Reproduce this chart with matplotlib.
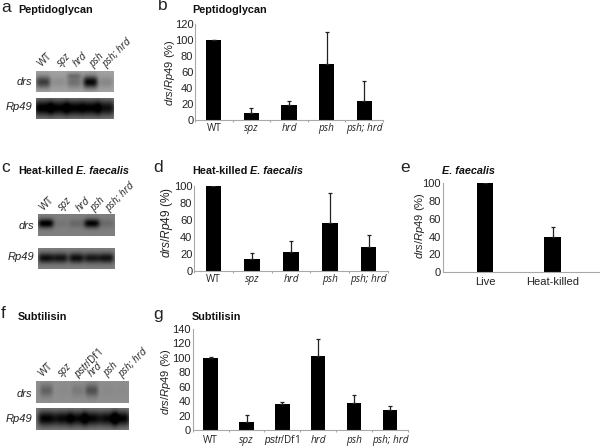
#!/usr/bin/env python
import numpy as np
import matplotlib
matplotlib.use("Agg")
import matplotlib.pyplot as plt

W, H = 600, 446
LABEL_FONT = ["Liberation Sans", "DejaVu Sans"]
CAT_FONT = ["Open Sans", "DejaVu Sans"]

plt.rcParams["mathtext.fontset"] = "custom"
plt.rcParams["mathtext.it"] = "Liberation Sans:italic"
plt.rcParams["mathtext.rm"] = "Liberation Sans"

PSTR = r"$\mathit{pstr/}$Df1"

# bar panels
b_cats = ["WT", "spz", "hrd", "psh", "psh; hrd"]
b_vals = [99, 9, 19, 70, 23.5]
b_tops = [100, 15, 23.5, 109, 49]
b_ticks = [0, 20, 40, 60, 80, 100, 120]

d_cats = ["WT", "spz", "hrd", "psh", "psh; hrd"]
d_vals = [100, 14, 22.5, 56, 27.5]
d_tops = [100, 20.5, 34.5, 92, 42]
d_ticks = [0, 20, 40, 60, 80, 100]

e_cats = ["Live", "Heat-killed"]
e_vals = [100, 40]
e_tops = [100, 50.5]
e_ticks = [0, 20, 40, 60, 80, 100]

g_cats = ["WT", "spz", PSTR, "hrd", "psh", "psh; hrd"]
g_vals = [100, 11.5, 35.8, 102, 37.6, 27.5]
g_tops = [101, 20.6, 38.5, 126, 48, 34]
g_ticks = [0, 20, 40, 60, 80, 100, 120, 140]

# blots: lane position (fraction of blot width) and darkness
a_lanes = [0.09, 0.29, 0.49, 0.70, 0.90]
a_drs = [0.60, 0.12, 0.30, 0.92, 0.16]
a_drs_upper = [0.0, 0.0, 0.22, 0.0, 0.0]
a_rp49 = [1.0, 0.95, 0.97, 0.97, 0.85]
c_lanes = [0.10, 0.29, 0.50, 0.70, 0.89]
c_drs = [1.0, 0.08, 0.18, 0.95, 0.16]
c_rp49 = [0.85, 0.80, 0.85, 0.78, 0.82]
f_lanes = [0.11, 0.29, 0.45, 0.60, 0.78, 0.92]
f_drs = [0.30, 0.03, 0.14, 0.42, 0.04, 0.03]
f_rp49 = [0.95, 0.90, 0.90, 0.92, 0.90, 0.95]

# lane labels over the blots
a_names = ["WT", "spz", "hrd", "psh", "psh; hrd"]
a_x = [40, 59, 75, 91, 104.5]
a_y = [65, 65, 65, 66, 66]
c_names = ["WT", "spz", "hrd", "psh", "psh; hrd"]
c_x = [42, 60, 78, 92, 107]
c_y = [209, 209, 210, 210, 210]
f_names = ["WT", "spz", PSTR, "hrd", "psh", "psh; hrd"]
f_x = [41, 60, 76, 90, 105, 120]
f_y = [375, 375, 376, 375, 375, 376]


def axes_px(fig, x0, y0, x1, y1):
    # pixel box measured from the top left of the picture
    return fig.add_axes([x0 / W, 1 - y1 / H, (x1 - x0) / W, (y1 - y0) / H])


def bar_panel(fig, box, y_max, cats, vals, tops, ticks, xlim, width):
    ax = axes_px(fig, *box)
    x = np.arange(len(cats))
    ax.bar(x, vals, width=width, color="black", linewidth=0)
    err = np.array(tops) - np.array(vals)
    ax.errorbar(x, vals, yerr=[np.zeros(len(x)), err], fmt="none", ecolor="#222222",
                elinewidth=0.9, capsize=1.6, capthick=0.9)
    ax.set_xlim(*xlim)
    ax.set_ylim(0, y_max)
    for s in ["top", "right"]:
        ax.spines[s].set_visible(False)
    for s in ["left", "bottom"]:
        ax.spines[s].set_color("#a8a8a8")
        ax.spines[s].set_linewidth(0.8)
    ax.set_yticks(ticks)
    ax.set_yticklabels([str(t) for t in ticks], fontsize=8, family=LABEL_FONT, color="#222222")
    ax.tick_params(axis="y", length=0, pad=1.2)
    ax.set_xticks(np.arange(len(cats) + 1) - 0.5)
    ax.set_xticklabels([])
    ax.tick_params(axis="x", length=1.5, color="#a8a8a8")
    ax.patch.set_alpha(0)
    return ax


def cat_labels(ax, cats, y_off):
    # WT upright, gene names in italics
    for i, text in enumerate(cats):
        style = "normal" if text in ["WT", PSTR] else "italic"
        ax.annotate(text, (i, 0), xycoords=("data", "axes fraction"), xytext=(0, y_off),
                    textcoords="offset points", ha="center", va="center", fontsize=7.2,
                    family=CAT_FONT, style=style, color="#222222")


def blot(fig, box, lanes, dark, bg, spread_x, spread_y, yc=0.5, upper=None):
    ax = axes_px(fig, *box)
    nx, ny = int(box[2] - box[0]) * 2, int(box[3] - box[1]) * 2
    xx, yy = np.meshgrid(np.linspace(0, 1, nx), np.linspace(0, 1, ny))
    img = np.zeros((ny, nx))
    for pos, d in zip(lanes, dark):
        img += d * np.exp(-((xx - pos) / spread_x) ** 4 / 2 - ((yy - yc) / spread_y) ** 2 / 2)
    if upper is not None:
        # faint second band above the main one
        for pos, d in zip(lanes, upper):
            img += d * np.exp(-((xx - pos) / spread_x) ** 4 / 2 - ((yy - 0.25) / 0.1) ** 2 / 2)
    img = np.clip(bg * (1 - img * 1.05), 0, 1)
    ax.imshow(img, cmap="gray", vmin=0, vmax=1, aspect="auto", interpolation="bilinear")
    ax.axis("off")
    return ax


fig = plt.figure(figsize=(W / 100, H / 100), dpi=100)


def px_text(x, y, s, **kw):
    fig.text(x / W, 1 - y / H, s, **kw)


def title(x, y, parts):
    # bold heading, an italic species name may follow
    end = x
    if parts[0]:
        t = fig.text(x / W, 1 - y / H, parts[0], fontsize=7.8, weight="bold", family=LABEL_FONT,
                     va="center", color="#111111")
        fig.canvas.draw()
        end = t.get_window_extent().x1 + 2.5
    if len(parts) > 1:
        fig.text(end / W, 1 - y / H, parts[1], fontsize=7.8, weight="bold", style="italic",
                 family=LABEL_FONT, va="center", color="#111111")


def letter(x, y, s):
    px_text(x, y, s, fontsize=12.5, family=LABEL_FONT, va="center", ha="left", color="#222222")


def ylab(x, y, size=8):
    # italic gene names with upright percent
    px_text(x, y, r"$\mathit{drs/Rp49}$ (%)", fontsize=size, family=LABEL_FONT, rotation=90,
            ha="center", va="center", color="#222222")


def lane_labels(names, xs, ys):
    for n, x, y in zip(names, xs, ys):
        px_text(x, y, n, fontsize=7.2, family=CAT_FONT,
                style="normal" if n in ["WT", PSTR] else "italic",
                rotation=45, rotation_mode="anchor", ha="left", va="center", color="#222222")


# panel b
ax = bar_panel(fig, (195, 23.5, 383, 120), 120, b_cats, b_vals, b_tops, b_ticks, (-0.5, 4.5), 0.4)
cat_labels(ax, b_cats, -6)
# panel d
ax = bar_panel(fig, (194, 185.7, 388, 270.7), 100, d_cats, d_vals, d_tops, d_ticks, (-0.5, 4.5), 0.4)
cat_labels(ax, d_cats, -6)
# panel e
ax = bar_panel(fig, (442.7, 183.3, 600, 272.3), 100, e_cats, e_vals, e_tops, e_ticks, (-0.625, 1.70), 0.25)
ax.set_xticks([])
for i, c in enumerate(e_cats):
    ax.annotate(c, (i, 0), xycoords=("data", "axes fraction"), xytext=(0, -7), textcoords="offset points",
                ha="center", va="center", fontsize=8, family=LABEL_FONT, color="#222222")
# panel g
ax = bar_panel(fig, (192.7, 328.7, 408, 430.3), 140, g_cats, g_vals, g_tops, g_ticks, (-0.5, 5.5), 0.4)
cat_labels(ax, g_cats, -7)

# blots
blot(fig, (36, 70.7, 114, 92.3), a_lanes, a_drs, 0.64, 0.08, 0.2, 0.55, a_drs_upper)
blot(fig, (36, 97.7, 114, 119), a_lanes, a_rp49, 0.52, 0.10, 0.27)
blot(fig, (38, 214, 115, 236), c_lanes, c_drs, 0.50, 0.085, 0.14, 0.45)
blot(fig, (38, 247.7, 115, 269), c_lanes, c_rp49, 0.50, 0.085, 0.17)
blot(fig, (35.7, 381.3, 128, 403.3), f_lanes, f_drs, 0.56, 0.06, 0.2, 0.45)
blot(fig, (35.7, 407.7, 128, 430), f_lanes, f_rp49, 0.50, 0.08, 0.24)

lane_labels(a_names, a_x, a_y)
lane_labels(c_names, c_x, c_y)
lane_labels(f_names, f_x, f_y)

# blot row names
for y, s, xr in [(82, "drs", 32), (107, "Rp49", 32), (226, "drs", 34.5), (257, "Rp49", 34.5),
                 (394, "drs", 32), (419, "Rp49", 32)]:
    px_text(xr, y, s, fontsize=8, family=LABEL_FONT, style="italic", ha="right", va="center", color="#222222")

title(18, 10, ["Peptidoglycan"])
title(192, 10, ["Peptidoglycan"])
title(18, 171, ["Heat-killed", "E. faecalis"])
title(192, 171, ["Heat-killed", "E. faecalis"])
title(442, 171, ["", "E. faecalis"])
title(18, 317, ["Subtilisin"])
title(192, 317, ["Subtilisin"])

letter(1, 7, "a")
letter(158, 6, "b")
letter(1, 168, "c")
letter(153, 167, "d")
letter(400, 167, "e")
letter(1, 313, "f")
letter(153, 315, "g")

ylab(170, 73)
ylab(167, 222, 8.6)
ylab(420, 226)
ylab(166, 382)

fig.savefig("out.png", dpi=100)
